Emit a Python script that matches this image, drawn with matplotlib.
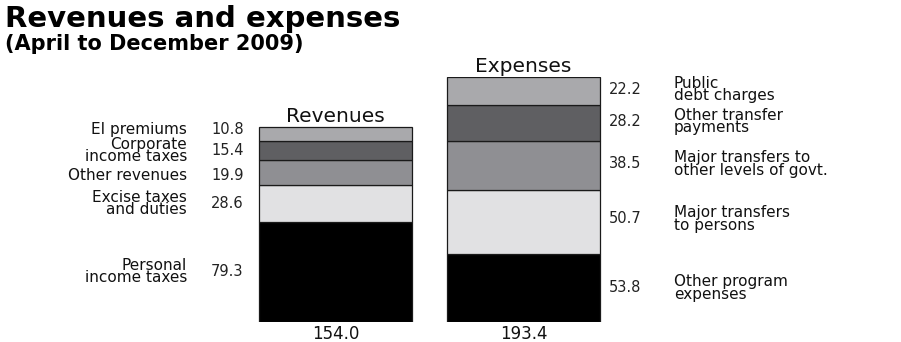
import matplotlib.pyplot as plt

plt.rcParams['font.family'] = ['DejaVu Sans']

# April to December 2009, $ billions (stacked bottom to top)
rev_labels = ["Personal\nincome taxes", "Excise taxes\nand duties", "Other revenues",
              "Corporate\nincome taxes", "EI premiums"]
rev_values = [79.3, 28.6, 19.9, 15.4, 10.8]

exp_labels = ["Other program\nexpenses", "Major transfers\nto persons",
              "Major transfers to\nother levels of govt.", "Other transfer\npayments",
              "Public\ndebt charges"]
exp_values = [53.8, 50.7, 38.5, 28.2, 22.2]

bar_names = ["Revenues", "Expenses"]
shades = ["#000000", "#e1e1e3", "#8f8f93", "#5f5f62", "#a9a9ac"]

# small vertical nudges (points) so the stacked labels don't collide
rev_nudge = [0, 0, -2, 0, 3]
exp_nudge = [0, 2, 1, 1, 1]

fig = plt.figure(figsize=(9.01, 3.42), dpi=100)
ax = fig.add_axes([0, 0.0585, 1, 0.7164])
ax.set_xlim(-1.785, 3.008)
ax.set_ylim(0, sum(exp_values))
ax.axis("off")

lab_kw = dict(fontsize=11, color="#111111", linespacing=0.78, va="center",
              textcoords="offset points")
num_kw = dict(fontsize=10.5, color="#222222", va="center", textcoords="offset points")

series = [(rev_labels, rev_values, rev_nudge), (exp_labels, exp_values, exp_nudge)]
for i, (labels, values, nudge) in enumerate(series):
    bottom = 0
    for lab, val, col, dy in zip(labels, values, shades, nudge):
        ax.bar(i, val, width=0.81, bottom=bottom, color=col,
               edgecolor="#1a1a1a", linewidth=0.9)
        mid = bottom + val / 2
        if i == 0:
            ax.annotate(f"{val:.1f}", (-0.662, mid), xytext=(0, dy), ha="left", **num_kw)
            ax.annotate(lab, (-0.79, mid), xytext=(0, dy), ha="right",
                        multialignment="right", **lab_kw)
        else:
            ax.annotate(f"{val:.1f}", (1.455, mid), xytext=(0, dy), ha="left", **num_kw)
            ax.annotate(lab, (1.80, mid), xytext=(0, dy), ha="left",
                        multialignment="left", **lab_kw)
        bottom += val
    total = sum(values)
    ax.annotate(bar_names[i], (i, total), xytext=(0, 0.5), textcoords="offset points",
                ha="center", va="bottom", fontsize=14.5, color="#111111")
    ax.annotate(f"{total:.1f}", (i, 0), xytext=(0, -2), textcoords="offset points",
                ha="center", va="top", fontsize=12, color="#111111")

fig.text(0.006, 0.985, "Revenues and expenses", ha="left", va="top",
         fontsize=21, fontweight="bold")
fig.text(0.006, 0.9, "(April to December 2009)", ha="left", va="top",
         fontsize=15, fontweight="bold")

fig.savefig("out.png", dpi=100)
